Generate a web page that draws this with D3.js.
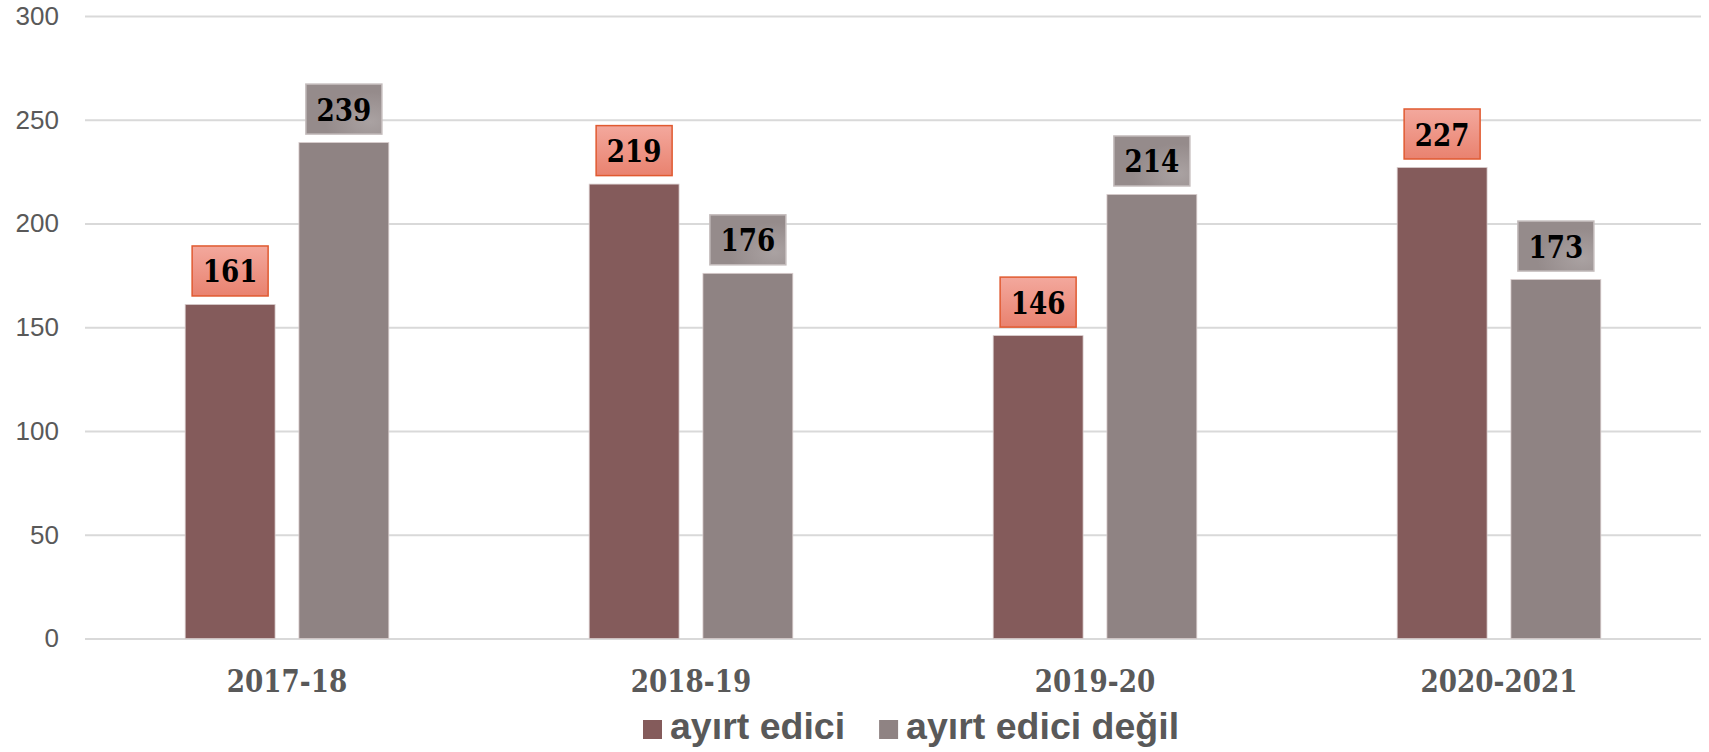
<!DOCTYPE html>
<html>
<head>
<meta charset="utf-8">
<script src="https://cdn.jsdelivr.net/npm/d3@7"></script>
<style>
    body { margin: 0; background: #fff; }
    #chart { width: 1709px; height: 752px; }
</style>
</head>
<body>
<div id="chart"></div>
<script>
// chart values
const years = ["2017-18", "2018-19", "2019-20", "2020-2021"];
const seriesNames = ["ayırt edici", "ayırt edici değil"];
const distinctive = [161, 219, 146, 227];
const notDistinctive = [239, 176, 214, 173];
const yTicks = [0, 50, 100, 150, 200, 250, 300];
const barColors = ["#845b5b", "#8f8383"];

// build rows for the grouped bars
let rows = years.map((yr, i) => ({
    year: yr,
    values: [
        {key: seriesNames[0], value: distinctive[i], idx: 0},
        {key: seriesNames[1], value: notDistinctive[i], idx: 1}
    ]
}));

let margin = {top: 16, right: 8, bottom: 113.4, left: 85};
let width = 1709 - margin.left - margin.right;
let height = 752 - margin.top - margin.bottom;

let svg = d3.select("#chart").append("svg")
    .attr("width", 1709)
    .attr("height", 752);

// gradients for the value boxes
let defs = svg.append("defs");
let redGrad = defs.append("linearGradient")
    .attr("id", "redBox")
    .attr("x1", "0%").attr("x2", "0%")
    .attr("y1", "0%").attr("y2", "100%");
redGrad.append("stop").attr("offset", "0%").attr("stop-color", "#f3a89d");
redGrad.append("stop").attr("offset", "100%").attr("stop-color", "#e9826f");

let greyGrad = defs.append("radialGradient")
    .attr("id", "greyBox")
    .attr("cx", "85%").attr("cy", "75%").attr("r", "60%");
greyGrad.append("stop").attr("offset", "0%").attr("stop-color", "#aaa2a2");
greyGrad.append("stop").attr("offset", "100%").attr("stop-color", "#958b8b");

let g = svg.append("g")
    .attr("transform", `translate(${margin.left},${margin.top})`);

// scales
let x0 = d3.scaleBand()
    .domain(years)
    .range([0, width])
    .padding(0);

let x1 = d3.scaleBand()
    .domain(seriesNames)
    .range([x0.bandwidth() * 0.248, x0.bandwidth() * 0.752])
    .paddingInner(0.21);

let y = d3.scaleLinear()
    .domain([0, 300])
    .range([height, 0]);

// y axis + gridlines
let yAxis = g.append("g")
    .call(d3.axisLeft(y).tickValues(yTicks).tickSize(-width).tickPadding(26))
    .call(ax => ax.select(".domain").remove());

yAxis.selectAll(".tick line")
    .attr("stroke", "#d9d9d9")
    .attr("stroke-width", 2);

yAxis.selectAll(".tick text")
    .attr("fill", "#595959")
    .style("font-family", "'Liberation Sans', Arial, sans-serif")
    .style("font-size", "26px");

// x axis
let xAxis = g.append("g")
    .attr("transform", `translate(0,${height})`)
    .call(d3.axisBottom(x0).tickSize(0))
    .call(ax => ax.select(".domain").remove());

xAxis.selectAll(".tick text")
    .attr("y", 53)
    .attr("dy", 0)
    .attr("fill", "#595959")
    .attr("transform", "scale(0.82,1)")
    .style("font-family", "'DejaVu Serif', serif")
    .style("font-weight", "bold")
    .style("font-size", "32px");

// bars
let groups = g.selectAll(".year")
    .data(rows)
    .enter().append("g")
    .attr("class", "year")
    .attr("transform", d => `translate(${x0(d.year)},0)`);

groups.selectAll("rect.bar")
    .data(d => d.values)
    .enter().append("rect")
    .attr("class", "bar")
    .attr("x", d => x1(d.key))
    .attr("y", d => y(d.value))
    .attr("width", x1.bandwidth())
    .attr("height", d => height - y(d.value))
    .attr("fill", d => barColors[d.idx])
    .attr("stroke", "#d8cccc")
    .attr("stroke-width", 0.8);

// value boxes
let boxW = 76, boxH = 50, boxGap = 8.5;

let labels = groups.selectAll("g.label")
    .data(d => d.values)
    .enter().append("g")
    .attr("class", "label")
    .attr("transform", d => `translate(${x1(d.key) + x1.bandwidth() / 2},${y(d.value) - boxGap - boxH / 2})`);

labels.append("rect")
    .attr("x", -boxW / 2)
    .attr("y", -boxH / 2)
    .attr("width", boxW)
    .attr("height", boxH)
    .attr("fill", d => d.idx === 0 ? "url(#redBox)" : "url(#greyBox)")
    .attr("stroke", d => d.idx === 0 ? "#e05a30" : "#c4bcbc")
    .attr("stroke-width", 1.5);

labels.append("text")
    .attr("text-anchor", "middle")
    .attr("y", 11.5)
    .attr("transform", "scale(0.82,1)")
    .attr("fill", "#000")
    .style("font-family", "'DejaVu Serif', serif")
    .style("font-weight", "bold")
    .style("font-size", "32px")
    .text(d => d.value);

// legend
let legend = svg.append("g").attr("class", "legend");
let lx = 643;
seriesNames.forEach((name, i) => {
    let item = legend.append("g").attr("transform", `translate(${lx},0)`);
    item.append("rect")
        .attr("x", 0)
        .attr("y", 720)
        .attr("width", 19)
        .attr("height", 19)
        .attr("fill", barColors[i]);
    let t = item.append("text")
        .attr("x", 27)
        .attr("y", 739.3)
        .attr("fill", "#595959")
        .style("font-family", "'Liberation Sans', Arial, sans-serif")
        .style("font-weight", "bold")
        .style("font-size", "37.5px")
        .text(name);
    lx += 27 + t.node().getComputedTextLength() + 34;
});
</script>
</body>
</html>
